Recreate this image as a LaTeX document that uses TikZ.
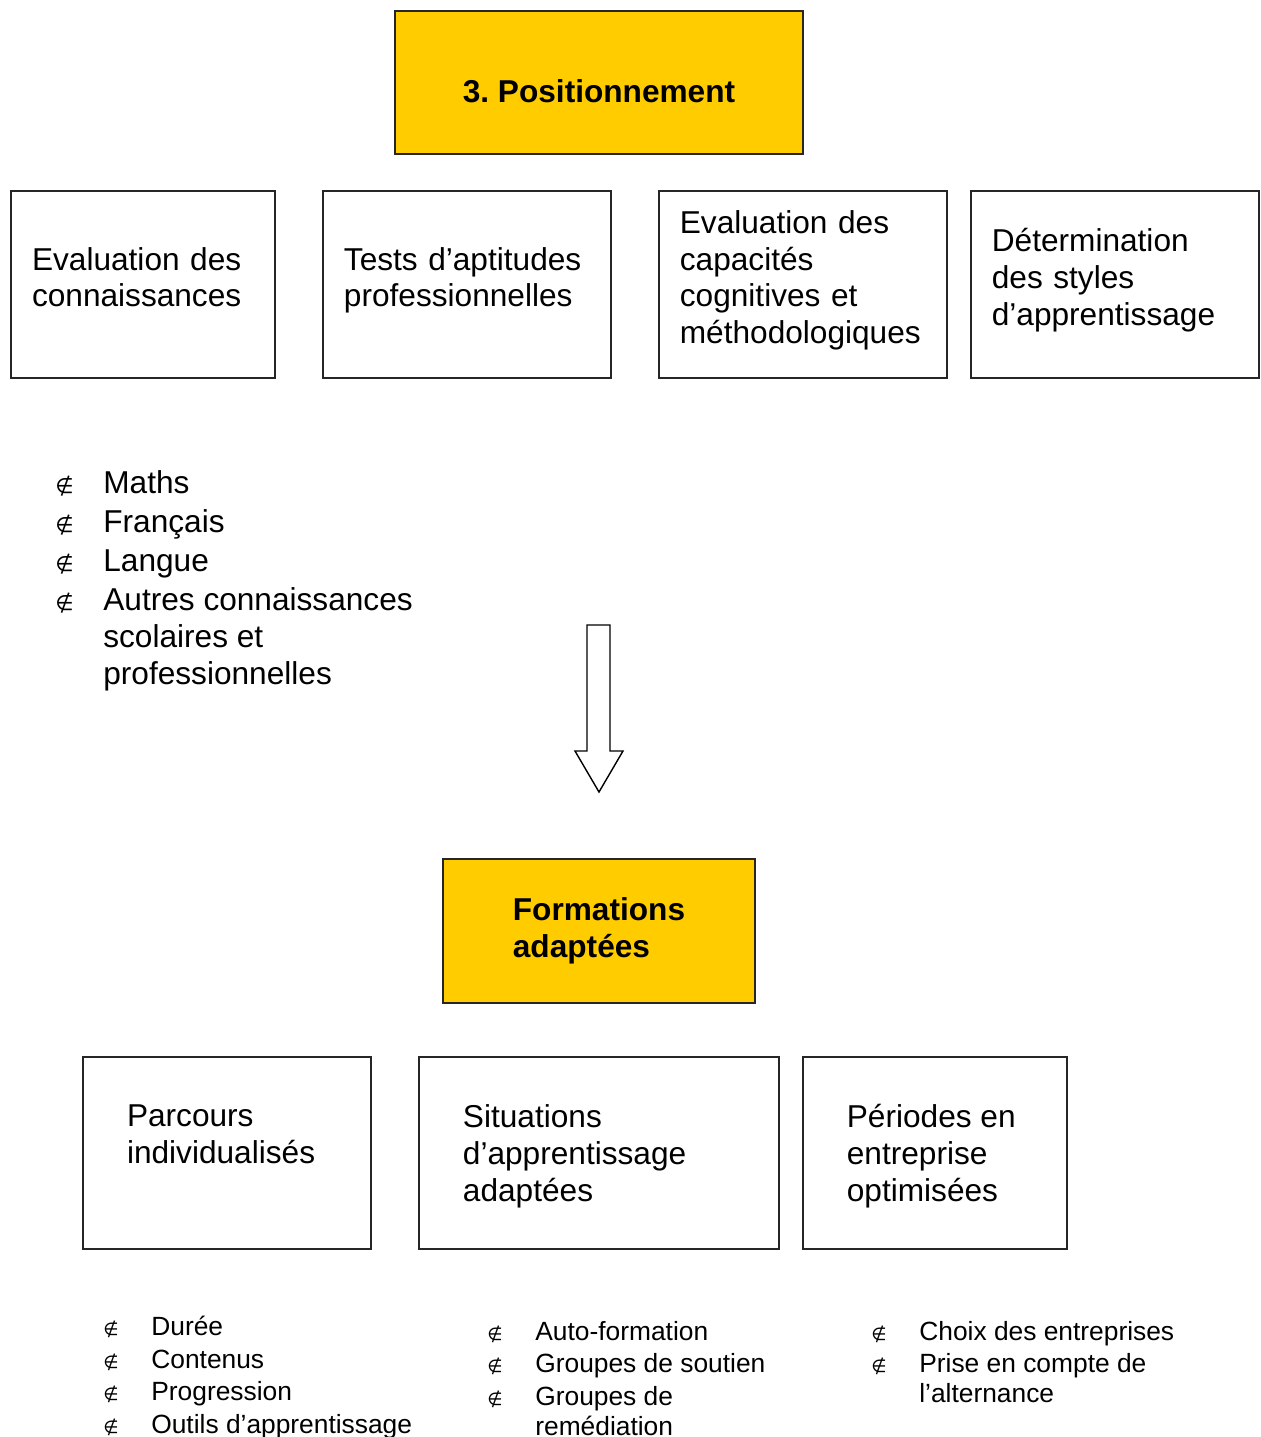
\documentclass[tikz,border=0pt]{standalone}
\usepackage{fontspec}
\setmainfont{Liberation Sans}
\newfontfamily\symfont{DejaVu Sans}
\usepackage{xcolor}
\definecolor{colorTitre}{HTML}{FFCC00}
\colorlet{colorBord}{black!85}
\usepackage{tikz}
\usetikzlibrary{positioning}
\frenchspacing
\tikzset{cadre/.style={draw=colorBord, line width=1pt, inner sep=0pt, outer sep=0pt, font=\fontsize{18}{21}\selectfont},
  titre/.style={cadre, fill=colorTitre, font=\fontsize{18}{21}\selectfont\bfseries, align=left},
  liste/.style={inner sep=0pt, anchor=north west, align=left}}
\newcommand{\puce}{\makebox[0.96cm][l]{\symfont\fontsize{12}{12}\selectfont ∉}}
\newcommand{\pucep}{\makebox[0.96cm][l]{\symfont\fontsize{10}{10}\selectfont ∉}}
\newcommand{\retrait}{\hspace*{0.96cm}}
\newcommand{\fin}{\rule[-0.3cm]{0pt}{0pt}}

\begin{document}
\begin{tikzpicture}[x=0.02cm, y=-0.02cm]
\useasboundingbox (0,0) rectangle (1261,1437);
\node[titre, minimum width=8.16cm, minimum height=2.86cm, text height=0.8cm, text depth=0pt] (pos) at (599,82.5) {3. Positionnement};
\node[cadre, minimum width=5.28cm, minimum height=3.74cm, text width=4.44cm, align=left] (eval) at (143,284.5) {Evaluation des\\connaissances\fin};
\node[cadre, minimum width=5.76cm, minimum height=3.74cm, text width=4.92cm, align=left, right=0.96cm of eval] (tests) {Tests d’aptitudes\\professionnelles\fin};
\node[cadre, minimum width=5.76cm, minimum height=3.74cm, text width=4.92cm, align=left, right=0.96cm of tests] (capa) {Evaluation des\\capacités\\cognitives et\\méthodologiques\fin};
\node[cadre, minimum width=5.76cm, minimum height=3.74cm, text width=4.92cm, align=left, right=0.48cm of capa] (styles) {Détermination\\des styles\\d’apprentissage\fin};
\node[liste, font=\fontsize{18}{21}\selectfont] (savoirs) at (55,470) {\puce Maths\\[1.2pt]\puce Français\\[1.2pt]\puce Langue\\[1.2pt]\puce Autres connaissances\\\retrait scolaires et\\\retrait professionnelles};
\draw[line width=0.8pt] (587,625) -- (610,625) -- (610,751) -- (623,751) -- (599,792) -- (575,751) -- (587,751) -- cycle;
\node[titre, minimum width=6.24cm, minimum height=2.88cm] (form) at (599,931) {Formations\\adaptées};
\node[cadre, minimum width=5.76cm, minimum height=3.84cm, text depth=1.49cm] (parcours) at (227,1153) {\parbox[t]{4cm}{\raggedright Parcours\\individualisés}};
\node[cadre, minimum width=7.2cm, minimum height=3.84cm, text depth=1.49cm, right=0.96cm of parcours] (situations) {\parbox[t]{5.44cm}{\raggedright Situations\\d’apprentissage\\adaptées}};
\node[cadre, minimum width=5.28cm, minimum height=3.84cm, text depth=1.49cm, right=0.48cm of situations] (periodes) {\parbox[t]{3.52cm}{\raggedright Périodes en\\entreprise\\optimisées}};
\node[liste, font=\fontsize{15}{17}\selectfont] (lparcours) at (103,1316) {\pucep Durée\\[1.5pt]\pucep Contenus\\[1.5pt]\pucep Progression\\[1.5pt]\pucep Outils d’apprentissage};
\node[liste, font=\fontsize{15}{17}\selectfont] (lsituations) at (487,1321) {\pucep Auto-formation\\[1.5pt]\pucep Groupes de soutien\\[1.5pt]\pucep Groupes de\\\retrait remédiation};
\node[liste, font=\fontsize{15}{17}\selectfont] (lperiodes) at (871,1321) {\pucep Choix des entreprises\\[1.5pt]\pucep Prise en compte de\\\retrait l’alternance};
\end{tikzpicture}
\end{document}
